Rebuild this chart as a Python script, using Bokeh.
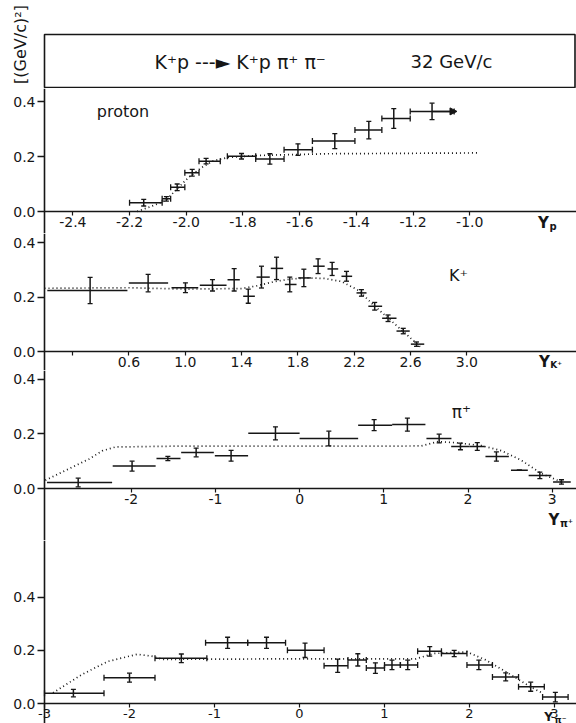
from math import pi
from bokeh.plotting import figure
from bokeh.layouts import column
from bokeh.models import (ColumnDataSource, Whisker, TeeHead, Label, LinearAxis,
                          FixedTicker, Range1d, Arrow, NormalHead)
from bokeh.embed import file_html
from bokeh.resources import INLINE

# ---------------- data ----------------
# proton
p_xlo = [-2.20, -2.085, -2.055, -2.005, -1.955, -1.855, -1.755, -1.655, -1.555, -1.405, -1.31, -1.21]
p_xhi = [-2.085, -2.055, -2.005, -1.955, -1.88, -1.755, -1.655, -1.555, -1.405, -1.31, -1.21, -1.055]
p_xc = [-2.15, -2.07, -2.032, -1.979, -1.93, -1.805, -1.705, -1.606, -1.476, -1.356, -1.268, -1.133]
p_y = [0.032, 0.046, 0.088, 0.141, 0.183, 0.201, 0.191, 0.225, 0.256, 0.296, 0.338, 0.364]
p_err = [0.012, 0.008, 0.012, 0.012, 0.010, 0.010, 0.019, 0.021, 0.027, 0.032, 0.036, 0.030]
pc_x = [-2.173, -2.12, -2.073, -2.038, -1.991, -1.944, -1.903, -1.85, -1.744, -1.497, -0.968]
pc_y = [0.0, 0.02, 0.04, 0.076, 0.125, 0.161, 0.185, 0.197, 0.204, 0.21, 0.213]
p_ticks = [-2.4, -2.2, -2.0, -1.8, -1.6, -1.4, -1.2, -1.0]
p_ticklabels = ["-2.4", "-2.2", "-2.0", "-1.8", "-1.6", "-1.4", "-1.2", "-1.0"]

# K+
k_xlo = [0.02, 0.599, 0.902, 1.103, 1.30, 1.411, 1.506, 1.607, 1.707, 1.802, 1.908, 2.01, 2.109, 2.216, 2.30, 2.398, 2.50, 2.602]
k_xhi = [0.589, 0.878, 1.092, 1.293, 1.387, 1.494, 1.60, 1.695, 1.79, 1.892, 1.99, 2.086, 2.185, 2.287, 2.398, 2.50, 2.594, 2.697]
k_xc = [0.324, 0.736, 1.001, 1.193, 1.347, 1.447, 1.541, 1.648, 1.742, 1.842, 1.943, 2.043, 2.145, 2.251, 2.345, 2.44, 2.548, 2.642]
k_y = [0.224, 0.251, 0.234, 0.243, 0.263, 0.203, 0.273, 0.305, 0.246, 0.27, 0.313, 0.303, 0.276, 0.215, 0.166, 0.122, 0.075, 0.027]
k_err = [0.048, 0.032, 0.018, 0.021, 0.041, 0.026, 0.04, 0.041, 0.027, 0.032, 0.027, 0.024, 0.018, 0.012, 0.014, 0.012, 0.010, 0.008]
kc_x = [0.0, 0.6, 1.0, 1.4, 1.5, 1.636, 1.75, 1.873, 1.99, 2.109, 2.228, 2.346, 2.464, 2.583, 2.68]
kc_y = [0.232, 0.234, 0.229, 0.231, 0.24, 0.257, 0.266, 0.27, 0.268, 0.257, 0.225, 0.166, 0.112, 0.057, 0.012]
k_ticks = [0.2, 0.6, 1.0, 1.4, 1.8, 2.2, 2.6, 3.0]
k_ticklabels = ["", "0.6", "1.0", "1.4", "1.8", "2.2", "2.6", "3.0"]

# pi+
pp_xlo = [-3.0, -2.22, -1.70, -1.407, -1.007, -0.61, 0.0, 0.695, 1.099, 1.506, 1.80, 2.02, 2.207, 2.51, 2.72, 3.01]
pp_xhi = [-2.227, -1.71, -1.415, -1.019, -0.612, 0.0, 0.695, 1.099, 1.494, 1.803, 2.02, 2.2, 2.485, 2.71, 2.99, 3.22]
pp_xc = [-2.63, -1.99, -1.565, -1.229, -0.814, -0.287, 0.347, 0.885, 1.28, 1.657, 1.91, 2.11, 2.337, 2.61, 2.853, 3.11]
pp_y = [0.022, 0.082, 0.11, 0.132, 0.12, 0.202, 0.183, 0.232, 0.234, 0.183, 0.154, 0.154, 0.117, 0.067, 0.048, 0.024]
pp_err = [0.016, 0.018, 0.008, 0.016, 0.02, 0.024, 0.027, 0.02, 0.024, 0.016, 0.012, 0.014, 0.017, 0.0, 0.012, 0.008]
ppc_x = [-3.02, -2.74, -2.5, -2.345, -2.19, -1.5, 0.0, 1.0, 1.447, 1.645, 1.843, 2.16, 2.4, 2.634, 2.87, 3.11]
ppc_y = [0.03, 0.072, 0.108, 0.138, 0.152, 0.155, 0.155, 0.155, 0.156, 0.172, 0.168, 0.157, 0.138, 0.103, 0.055, 0.024]
pp_ticks = [-2, -1, 0, 1, 2, 3]
pp_ticklabels = ["-2", "-1", "0", "1", "2", "3"]

# pi-
pm_xlo = [-3.0, -2.30, -1.70, -1.105, -0.61, -0.142, 0.289, 0.57, 0.786, 1.0, 1.187, 1.39, 1.67, 1.97, 2.27, 2.577, 2.86]
pm_xhi = [-2.30, -1.70, -1.09, -0.61, -0.164, 0.289, 0.57, 0.786, 1.0, 1.187, 1.39, 1.67, 1.97, 2.27, 2.577, 2.88, 3.16]
pm_xc = [-2.66, -2.0, -1.39, -0.846, -0.388, 0.065, 0.449, 0.686, 0.893, 1.088, 1.273, 1.532, 1.82, 2.11, 2.426, 2.72, 3.01]
pm_y = [0.039, 0.097, 0.170, 0.228, 0.228, 0.2, 0.142, 0.164, 0.133, 0.145, 0.145, 0.196, 0.188, 0.145, 0.1, 0.063, 0.024]
pm_err = [0.014, 0.017, 0.016, 0.021, 0.021, 0.027, 0.025, 0.023, 0.02, 0.018, 0.018, 0.018, 0.012, 0.018, 0.015, 0.017, 0.018]
pmc_x = [-2.9, -2.56, -2.257, -1.91, -1.74, -1.61, 0.0, 1.37, 1.58, 1.97, 2.19, 2.45, 2.71, 2.84]
pmc_y = [0.04, 0.109, 0.158, 0.185, 0.178, 0.166, 0.168, 0.168, 0.188, 0.194, 0.164, 0.115, 0.064, 0.042]
pm_ticks = [-3, -2, -1, 0, 1, 2, 3]
pm_ticklabels = ["-3", "-2", "-1", "0", "1", "2", "3"]

y_ticks = [0.0, 0.2, 0.4]
y_ticklabels = ["0.0", "0.2", "0.4"]

# ---------------- style ----------------
FONT = "DejaVu Sans"
INK = "#161616"
W = 576
LEFT = 44   # pixel position of the vertical axis


def make_panel(h, x_axis_at, px_per_unit, yr, xticks, xlabels, tick_size="14px"):
    """Frame covers the whole canvas; the y axis sits at data x = x_axis_at."""
    x0 = x_axis_at - LEFT / px_per_unit
    x1 = x_axis_at + (W - LEFT) / px_per_unit
    p = figure(width=W, height=h, x_range=Range1d(x0, x1), y_range=Range1d(*yr),
               x_axis_type=None, y_axis_type=None, output_backend="svg",
               toolbar_location=None, min_border_left=0, min_border_right=0,
               min_border_top=0, min_border_bottom=0, outline_line_color=None,
               background_fill_color="white", border_fill_color="white")
    ya = LinearAxis(ticker=FixedTicker(ticks=y_ticks), fixed_location=x_axis_at,
                    major_label_overrides=dict(zip(y_ticks, y_ticklabels)),
                    axis_line_color=INK, axis_line_width=1.6,
                    major_tick_line_color=INK, major_tick_line_width=1.3,
                    major_tick_in=0, major_tick_out=7, minor_tick_out=0, minor_tick_in=0,
                    major_label_standoff=2,
                    major_label_text_font=FONT, major_label_text_font_size="14px",
                    major_label_text_color=INK)
    p.add_layout(ya, "left")
    xa = LinearAxis(ticker=FixedTicker(ticks=xticks), fixed_location=0,
                    major_label_overrides=dict(zip(xticks, xlabels)),
                    axis_line_color=None,
                    major_tick_line_color=INK, major_tick_line_width=1.2,
                    major_tick_in=0, major_tick_out=4, minor_tick_out=0, minor_tick_in=0,
                    major_label_standoff=1,
                    major_label_text_font=FONT, major_label_text_font_size=tick_size,
                    major_label_text_color=INK)
    p.add_layout(xa, "below")
    # x-axis line starting at the y axis
    p.segment(x0=[x_axis_at], y0=[0], x1=[x1], y1=[0], line_color=INK, line_width=1.6)
    return p


def add_points(p, xlo, xhi, xc, y, err, hcaps=True):
    src = ColumnDataSource(dict(
        xlo=xlo, xhi=xhi, xc=xc, y=y,
        ylo=[a - e for a, e in zip(y, err)],
        yhi=[a + e for a, e in zip(y, err)]))
    hh = dict(upper_head=TeeHead(size=6, line_color=INK, line_width=1.3),
              lower_head=TeeHead(size=6, line_color=INK, line_width=1.3)) if hcaps else \
        dict(upper_head=None, lower_head=None)
    p.add_layout(Whisker(source=src, base="y", lower="xlo", upper="xhi", dimension="width",
                         line_color=INK, line_width=1.5, **hh))
    p.add_layout(Whisker(source=src, base="xc", lower="ylo", upper="yhi", dimension="height",
                         line_color=INK, line_width=1.5,
                         upper_head=TeeHead(size=5, line_color=INK, line_width=1.3),
                         lower_head=TeeHead(size=5, line_color=INK, line_width=1.3)))


def add_curve(p, x, y):
    p.line(x, y, line_color=INK, line_width=1.7, line_dash="1 3")


def add_ylabel(p, x, y, sub, size="15px", sub_size="10px", dy=-4):
    p.add_layout(Label(x=x, y=y, text="Y", text_font=FONT, text_font_size=size,
                       text_font_style="bold", text_color=INK,
                       text_align="center", text_baseline="middle"))
    p.add_layout(Label(x=x, y=y, x_offset=6, y_offset=dy, text=sub, text_font=FONT,
                       text_font_size=sub_size, text_font_style="bold", text_color=INK,
                       text_align="left", text_baseline="middle"))


# ---------------- header ----------------
hdr = figure(width=W, height=88, x_range=Range1d(0, W), y_range=Range1d(88, 0),
             x_axis_type=None, y_axis_type=None, output_backend="svg",
             toolbar_location=None, min_border=0, min_border_left=0, min_border_right=0,
             min_border_top=0, min_border_bottom=0, outline_line_color=None,
             background_fill_color="white", border_fill_color="white")
hdr.quad(left=LEFT, right=W - 1.5, top=34, bottom=87, fill_color=None,
         line_color=INK, line_width=1.6)
hdr.add_layout(Label(x=154, y=61, text="K⁺p ---► K⁺p  π⁺  π⁻", text_font=FONT,
                     text_font_size="19px", text_color=INK, text_baseline="middle"))
hdr.add_layout(Label(x=410, y=61, text="32 GeV/c", text_font=FONT,
                     text_font_size="18px", text_color=INK, text_baseline="middle"))
hdr.add_layout(Label(x=20, y=44, text="[(GeV/c)²]", angle=pi / 2, text_font=FONT,
                     text_font_size="16px", text_color=INK,
                     text_align="center", text_baseline="middle"))

# ---------------- panel 1: proton (canvas y 88..233, axis at 211) ----------------
p1 = make_panel(145, -2.5, 283.5, (-22 / 275, 123 / 275), p_ticks, p_ticklabels)
add_curve(p1, pc_x, pc_y)
add_points(p1, p_xlo, p_xhi, p_xc, p_y, p_err, hcaps=True)
p1.add_layout(Arrow(end=NormalHead(size=7, fill_color=INK, line_color=INK),
                    x_start=p_xc[-1], y_start=p_y[-1], x_end=p_xhi[-1] + 0.01, y_end=p_y[-1],
                    line_color=INK, line_width=1.5))
p1.add_layout(Label(x=-2.223, y=0.362, text="proton", text_font=FONT, text_font_size="16px",
                    text_color=INK, text_align="center", text_baseline="middle"))
add_ylabel(p1, -0.74, -11 / 275, "p")

# ---------------- panel 2: K+ (canvas y 233..370, axis at 351) ----------------
p2 = make_panel(137, 0.0, 140.8, (-19 / 272.5, 118 / 272.5), k_ticks, k_ticklabels)
add_curve(p2, kc_x, kc_y)
add_points(p2, k_xlo, k_xhi, k_xc, k_y, k_err, hcaps=False)
p2.add_layout(Label(x=2.94, y=0.28, text="K⁺", text_font=FONT, text_font_size="16px",
                    text_color=INK, text_align="center", text_baseline="middle"))
add_ylabel(p2, 3.55, -10 / 272.5, "K⁺", sub_size="9px", dy=-3)

# ---------------- panel 3: pi+ (canvas y 370..540, axis at 488) ----------------
p3 = make_panel(170, -3.03, 84.2, (-52 / 273, 118 / 273), pp_ticks, pp_ticklabels)
add_curve(p3, ppc_x, ppc_y)
add_points(p3, pp_xlo, pp_xhi, pp_xc, pp_y, pp_err, hcaps=False)
p3.add_layout(Label(x=1.92, y=0.279, text="π⁺", text_font=FONT, text_font_size="17px",
                    text_color=INK, text_align="center", text_baseline="middle"))
add_ylabel(p3, 3.02, -0.115, "π⁺")

# ---------------- panel 4: pi- (canvas y 540..723, axis at 703) ----------------
p4 = make_panel(183, -3.0, 85.0, (-20 / 266, 163 / 266), pm_ticks, pm_ticklabels,
                tick_size="13px")
add_curve(p4, pmc_x, pmc_y)
add_points(p4, pm_xlo, pm_xhi, pm_xc, pm_y, pm_err, hcaps=True)
add_ylabel(p4, 2.93, -13 / 266, "π⁻", size="12px", sub_size="9px", dy=-3)

layout = column(hdr, p1, p2, p3, p4, spacing=0)
open("out.html", "w").write(file_html(layout, INLINE))
